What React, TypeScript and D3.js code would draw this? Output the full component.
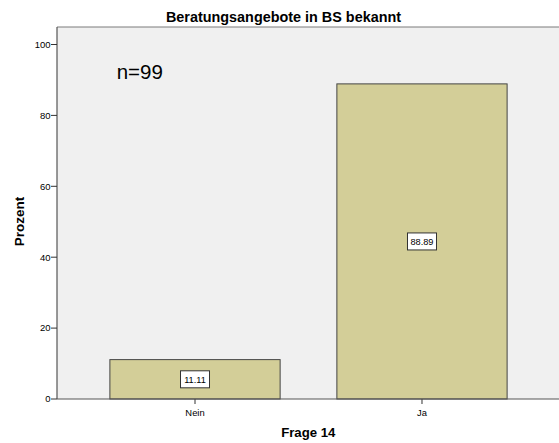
import React from "react";
import * as d3 from "d3";

const categories = ["Nein", "Ja"];
const values = [11.11, 88.89];
const yTicks = [0, 20, 40, 60, 80, 100];
const title = "Beratungsangebote in BS bekannt";
const xTitle = "Frage 14";
const yTitle = "Prozent";
const note = "n=99";

export default function App() {
  const W = 559, H = 443;
  const left = 57, right = 560, top = 27, bottom = 399;
  const y = d3.scaleLinear().domain([0, 100]).range([bottom, 44.5]);
  const x = d3.scaleBand<string>().domain(categories).range([left, right]).paddingInner(0.25).paddingOuter(0.233);
  const font = "'Liberation Sans', Arial, sans-serif";
  return (
    <svg width={W} height={H} style={{ position: "absolute", left: 0, top: 0, background: "#fff" }} fontFamily={font}>
      <rect x={left} y={top} width={W - left} height={bottom - top} fill="#f0f0f0" />
      <line x1={left} x2={W} y1={top} y2={top} stroke="#7a7a7a" strokeWidth={1} />
      <text x={283.5} y={22.3} textAnchor="middle" fontSize={14.4} fontWeight="bold" fill="#000">{title}</text>
      {categories.map((c, i) => {
        const bx = x(c)!;
        const bw = x.bandwidth();
        const by = y(values[i]);
        const cx = bx + bw / 2;
        const cy = (by + y(0)) / 2;
        return (
          <g key={c}>
            <rect x={bx} y={by} width={bw} height={y(0) - by} fill="#d3ce98" stroke="#454545" strokeWidth={1} />
            <rect x={cx - 14.5} y={cy - 8.5} width={29} height={17} fill="#fff" stroke="#333" strokeWidth={1} />
            <text x={cx} y={cy + 3.5} textAnchor="middle" fontSize={9.2} fill="#000">{values[i].toFixed(2)}</text>
            <line x1={cx} x2={cx} y1={bottom} y2={bottom + 5} stroke="#333" />
            <text x={cx} y={bottom + 16.5} textAnchor="middle" fontSize={9.4} fill="#000">{c}</text>
          </g>
        );
      })}
      <line x1={left} x2={W} y1={bottom} y2={bottom} stroke="#555" strokeWidth={1.2} />
      <line x1={left} x2={left} y1={top} y2={bottom} stroke="#555" strokeWidth={1.2} />
      {yTicks.map((t) => (
        <g key={t}>
          <line x1={left - 6} x2={left} y1={y(t)} y2={y(t)} stroke="#333" />
          <text x={left - 6.5} y={y(t) + 3.3} textAnchor="end" fontSize={9.5} fill="#000">{t}</text>
        </g>
      ))}
      <text x={308.3} y={436.7} textAnchor="middle" fontSize={13.2} fontWeight="bold" fill="#000">{xTitle}</text>
      <text transform={`translate(23.5,221.5) rotate(-90)`} textAnchor="middle" fontSize={13.5} fontWeight="bold" fill="#000">{yTitle}</text>
      <text x={116.7} y={79} fontSize={20.5} fill="#000">{note}</text>
    </svg>
  );
}
